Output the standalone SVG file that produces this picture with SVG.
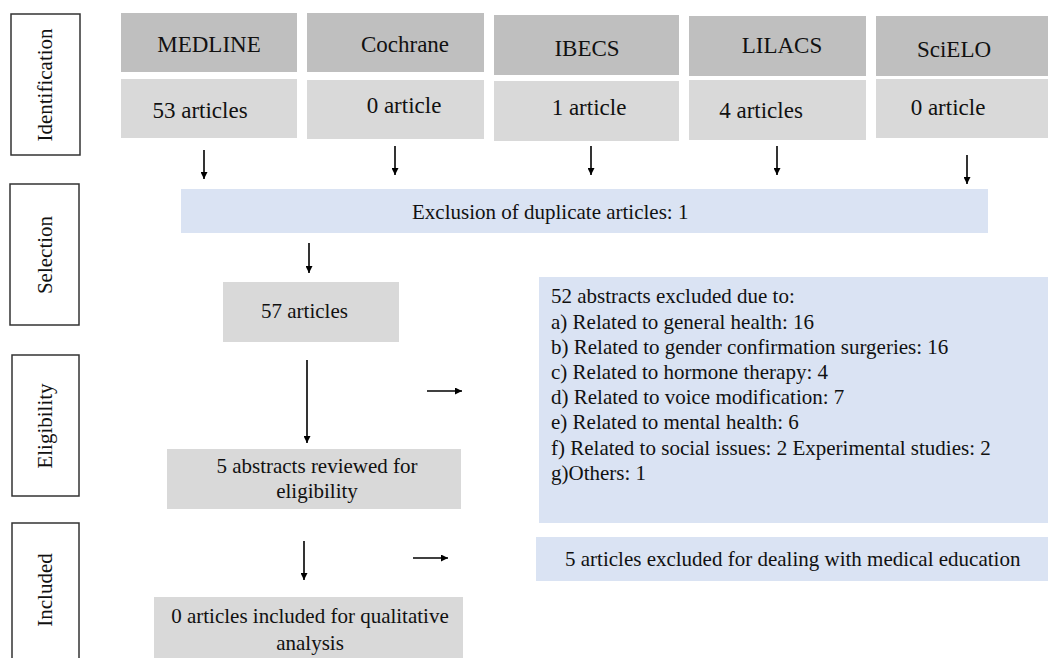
<svg xmlns="http://www.w3.org/2000/svg" width="1048" height="658" viewBox="0 0 1048 658">
<style>
text{font-family:"Liberation Serif","Times New Roman",serif;fill:#111;}
.t23{font-size:23px;}
.t21{font-size:21px;}
.dark{fill:#bfbfbf;}
.light{fill:#d9d9d9;}
.blue{fill:#dae3f3;}
.side{fill:#fff;stroke:#333;stroke-width:1.5;}
.c{text-anchor:middle;}
.conn line{stroke:#000;stroke-width:1.6;}
</style>
<defs>
<marker id="ah" viewBox="0 0 10 10" refX="10" refY="5" markerWidth="8" markerHeight="7" markerUnits="userSpaceOnUse" orient="auto">
<path d="M0,0 L10,5 L0,10 Z" fill="#000"/>
</marker>
</defs>
<rect width="1048" height="658" fill="#fff"/>

<g id="stage-identification"><rect class="side" x="11" y="14" width="69" height="141"/><text class="t21 c" transform="translate(52,85) rotate(-90)">Identification</text></g>
<g id="stage-selection"><rect class="side" x="10" y="184" width="69" height="141"/><text class="t21 c" transform="translate(52,255) rotate(-90)">Selection</text></g>
<g id="stage-eligibility"><rect class="side" x="12" y="355" width="67" height="141"/><text class="t21 c" transform="translate(52,426) rotate(-90)">Eligibility</text></g>
<g id="stage-included"><rect class="side" x="12" y="523" width="67" height="140"/><text class="t21 c" transform="translate(52,590) rotate(-90)">Included</text></g>

<g id="medline"><rect class="dark" x="121" y="13" width="176" height="59"/><text class="t23 c" x="209" y="52">MEDLINE</text></g>
<g id="medline-count"><rect class="light" x="121" y="79" width="176" height="59"/><text class="t23 c" x="200" y="118">53 articles</text></g>
<g id="cochrane"><rect class="dark" x="307" y="13" width="177" height="59"/><text class="t23 c" x="405" y="52">Cochrane</text></g>
<g id="cochrane-count"><rect class="light" x="307" y="80" width="177" height="59"/><text class="t23 c" x="404" y="113">0 article</text></g>
<g id="ibecs"><rect class="dark" x="494" y="15" width="185" height="60"/><text class="t23 c" x="587" y="56">IBECS</text></g>
<g id="ibecs-count"><rect class="light" x="494" y="81" width="185" height="60"/><text class="t23 c" x="589" y="115">1 article</text></g>
<g id="lilacs"><rect class="dark" x="689" y="16" width="177" height="60"/><text class="t23 c" x="782" y="53">LILACS</text></g>
<g id="lilacs-count"><rect class="light" x="689" y="80" width="177" height="60"/><text class="t23 c" x="761" y="118">4 articles</text></g>
<g id="scielo"><rect class="dark" x="876" y="16" width="172" height="60"/><text class="t23 c" x="954" y="57">SciELO</text></g>
<g id="scielo-count"><rect class="light" x="876" y="79" width="172" height="59"/><text class="t23 c" x="948" y="115">0 article</text></g>

<g id="duplicates"><rect class="blue" x="181" y="189" width="807" height="44"/><text class="t21" x="412" y="219">Exclusion of duplicate articles: 1</text></g>
<g id="articles57"><rect class="light" x="223" y="282" width="176" height="60"/><text class="t21" x="261" y="318">57 articles</text></g>
<g id="abstracts-excluded"><rect class="blue" x="539" y="277" width="509" height="246"/>
<text class="t21" x="551" y="303">52 abstracts excluded due to:</text>
<text class="t21" x="551" y="329">a) Related to general health: 16</text>
<text class="t21" x="551" y="354">b) Related to gender confirmation surgeries: 16</text>
<text class="t21" x="551" y="379">c) Related to hormone therapy: 4</text>
<text class="t21" x="551" y="404">d) Related to voice modification: 7</text>
<text class="t21" x="551" y="429">e) Related to mental health: 6</text>
<text class="t21" x="551" y="455">f) Related to social issues: 2 Experimental studies: 2</text>
<text class="t21" x="551" y="480">g)Others: 1</text>
</g>
<g id="reviewed"><rect class="light" x="167" y="449" width="294" height="60"/><text class="t21 c" x="317" y="473">5 abstracts reviewed for</text><text class="t21 c" x="317" y="498">eligibility</text></g>
<g id="education-excluded"><rect class="blue" x="536" y="537" width="512" height="44"/><text class="t21" x="565" y="566">5 articles excluded for dealing with medical education</text></g>
<g id="included"><rect class="light" x="154" y="597" width="309" height="65"/><text class="t21 c" x="310" y="623">0 articles included for qualitative</text><text class="t21 c" x="310" y="650">analysis</text></g>

<g class="conn" id="connectors">
<line x1="204" y1="150" x2="204" y2="179" marker-end="url(#ah)"/>
<line x1="395" y1="146" x2="395" y2="175" marker-end="url(#ah)"/>
<line x1="591" y1="146" x2="591" y2="175" marker-end="url(#ah)"/>
<line x1="777" y1="146" x2="777" y2="175" marker-end="url(#ah)"/>
<line x1="967" y1="155" x2="967" y2="184" marker-end="url(#ah)"/>
<line x1="309" y1="243" x2="309" y2="273" marker-end="url(#ah)"/>
<line x1="307" y1="360" x2="307" y2="443" marker-end="url(#ah)"/>
<line x1="427" y1="391" x2="462" y2="391" marker-end="url(#ah)"/>
<line x1="304" y1="541" x2="304" y2="580" marker-end="url(#ah)"/>
<line x1="413" y1="558" x2="448" y2="558" marker-end="url(#ah)"/>
</g>
</svg>
